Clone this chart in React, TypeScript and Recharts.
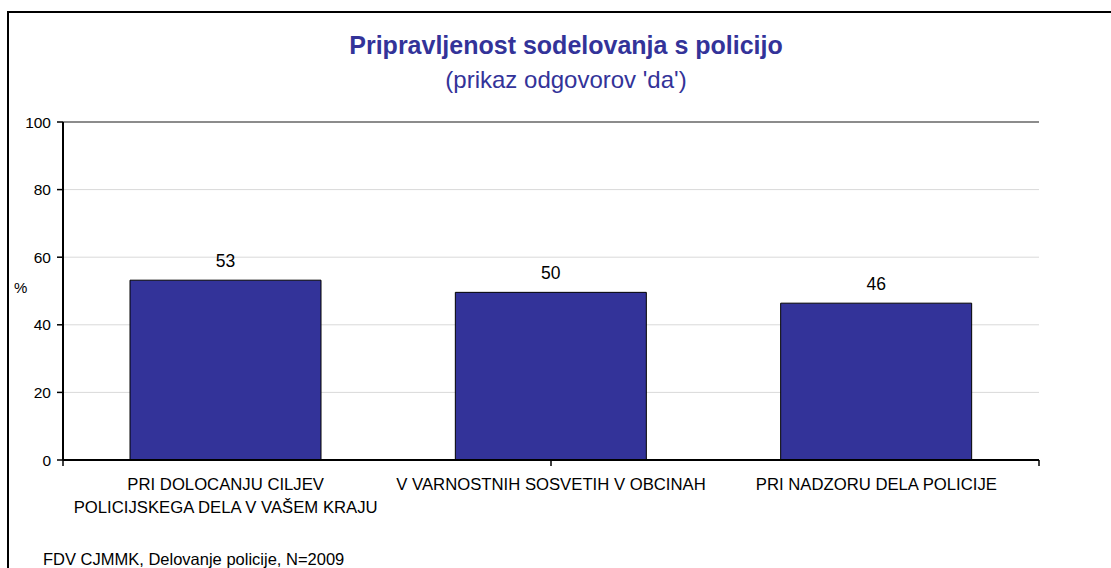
import React from 'react';
import { BarChart, Bar, XAxis, YAxis, CartesianGrid, LabelList, ReferenceLine } from 'recharts';

const categories = [
  'PRI DOLOCANJU CILJEV\nPOLICIJSKEGA DELA V VAŠEM KRAJU',
  'V VARNOSTNIH SOSVETIH V OBCINAH',
  'PRI NADZORU DELA POLICIJE',
];
const values = [53.2, 49.6, 46.4];
const yTicks = [0, 20, 40, 60, 80, 100];
const boundaryTicks = [0, 1, 2, 3];

const title = 'Pripravljenost sodelovanja s policijo';
const subtitle = "(prikaz odgovorov 'da')";
const footer = 'FDV CJMMK, Delovanje policije, N=2009';
const yLabel = '%';

const data = categories.map((c, i) => ({ name: c, value: values[i] }));

const FONT = '"Liberation Sans", Arial, sans-serif';

const CatTick = (props: any) => {
  const { x, y, payload } = props;
  const lines = String(payload.value).split('\n');
  return (
    <g transform={`translate(${x},${y})`}>
      {lines.map((l: string, i: number) => (
        <text key={i} x={0} y={0} dy={21 + i * 23} textAnchor="middle" fill="#000" fontSize={16.7} fontFamily={FONT}>
          {l}
        </text>
      ))}
    </g>
  );
};

const EmptyTick = () => <g />;

export default function App() {
  return (
    <div style={{ position: 'absolute', left: 0, top: 0, width: 1111, height: 568, overflow: 'hidden', background: '#fff', fontFamily: FONT }}>
      <div style={{ position: 'absolute', left: 7, top: 11, width: 1300, height: 800, borderTop: '2px solid #000', borderLeft: '2px solid #000' }} />
      <div style={{ position: 'absolute', left: 0, width: 1132, top: 31, textAlign: 'center', color: '#333399', fontSize: 25, fontWeight: 'bold', whiteSpace: 'nowrap' }}>{title}</div>
      <div style={{ position: 'absolute', left: 0, width: 1132, top: 66, textAlign: 'center', color: '#333399', fontSize: 24, whiteSpace: 'nowrap' }}>{subtitle}</div>
      <div style={{ position: 'absolute', left: 14, top: 279, fontSize: 15, color: '#000' }}>{yLabel}</div>
      <div style={{ position: 'absolute', left: 43, top: 550, fontSize: 16.5, color: '#000', whiteSpace: 'nowrap' }}>{footer}</div>
      <div style={{ position: 'absolute', left: 0, top: 0 }}>
        <BarChart width={1111} height={568} data={data} margin={{ top: 122, right: 72, bottom: 47, left: 8 }} barSize={191}>
          <CartesianGrid xAxisId="cat" yAxisId="l" vertical={false} stroke="#d9d9d9" strokeWidth={1} />
          <XAxis xAxisId="b" type="number" domain={[0, 3]} ticks={boundaryTicks} height={1} tick={<EmptyTick />} tickSize={6} tickLine={{ stroke: '#000', strokeWidth: 1.5 }} axisLine={{ stroke: '#000', strokeWidth: 2 }} allowDataOverflow interval={0} />
          <XAxis xAxisId="cat" dataKey="name" type="category" height={60} tickLine={false} axisLine={false} tick={<CatTick />} interval={0} />
          <YAxis yAxisId="l" domain={[0, 100]} ticks={yTicks} width={55} tickSize={6} tickMargin={6} axisLine={{ stroke: '#000', strokeWidth: 2 }} tickLine={{ stroke: '#000', strokeWidth: 1.5 }} tick={{ fill: '#000', fontSize: 15.5, fontFamily: FONT }} interval={0} />
          <ReferenceLine yAxisId="l" xAxisId="cat" y={100} stroke="#8c8c8c" strokeWidth={2} />
          <ReferenceLine yAxisId="l" xAxisId="b" x={3} stroke="#8c8c8c" strokeWidth={2} />
          <Bar xAxisId="cat" yAxisId="l" dataKey="value" fill="#333399" stroke="#000" strokeWidth={1} isAnimationActive={false}>
            <LabelList dataKey="value" position="top" offset={13} formatter={(v: any) => Math.round(Number(v))} fill="#000" fontSize={17.5} fontFamily={FONT} />
          </Bar>
        </BarChart>
      </div>
    </div>
  );
}
